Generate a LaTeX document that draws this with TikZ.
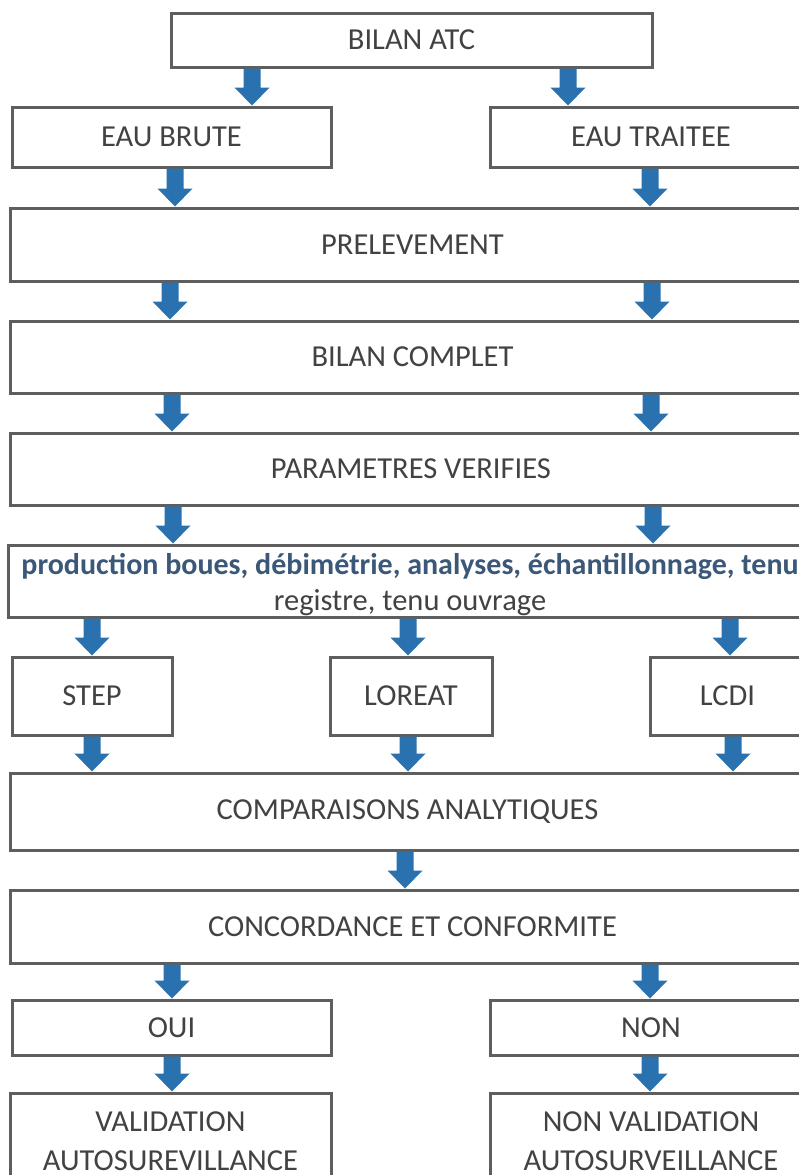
\documentclass[tikz,border=0pt]{standalone}
\usepackage{fontspec}
\setmainfont{Carlito}
\usetikzlibrary{calc}
\definecolor{arrowblue}{HTML}{2A72AF}
\definecolor{boxgray}{HTML}{5E5E5E}
\definecolor{txtgray}{HTML}{424242}
\definecolor{prodblue}{HTML}{3B5878}
\tikzset{
  box/.style={draw=boxgray, line width=3pt, fill=white, inner sep=0pt, align=center,
    text=txtgray, font=\fontsize{30.5}{39}\selectfont},
  flowarrow/.style={fill=arrowblue},
}
\newcommand\mkbox[6]{\node[box, minimum width={#4-#2}, minimum height={#5-#3}] (#1) at ({(#2+#4)/2},{(#3+#5)/2}) {#6};}
\newcommand\flowarrow[3]{%
  \coordinate (s) at (#2.south -| #1,0);
  \coordinate (e) at (#3.north -| #1,0);
  \fill[flowarrow] ($(s)+(-8.5,0)$) -- ($(e)+(-8.5,-18)$) -- ($(e)+(-17.5,-18)$) -- (e)
    -- ($(e)+(17.5,-18)$) -- ($(e)+(8.5,-18)$) -- ($(s)+(8.5,0)$) -- cycle;}
\begin{document}
\begin{tikzpicture}[x=1pt,y=-1pt]
\useasboundingbox (0,0) rectangle (799,1175);
\clip (0,0) rectangle (799,1175);
\fill[white] (0,0) rectangle (799,1175);
\mkbox{atc}{171}{13}{652}{67}{BILAN ATC}
\mkbox{brute}{12}{107}{331}{167}{EAU BRUTE}
\mkbox{traitee}{490}{107}{812}{167}{EAU TRAITEE}
\mkbox{prel}{10}{208}{815}{281}{PRELEVEMENT}
\mkbox{complet}{10}{321}{815}{393}{BILAN COMPLET}
\mkbox{param}{10}{433}{812}{505}{PARAMETRES VERIFIES}
\node[box, minimum width=804, minimum height=72, font=\fontsize{30.5}{36}\selectfont] (prod) at (410,581) {};
\node[text=txtgray, align=center, inner sep=0pt, font=\fontsize{30.5}{36}\selectfont] (prodtext) at (410,585)
  {{\color{prodblue}\bfseries\fontsize{30}{36}\selectfont production boues, débimétrie, analyses, échantillonnage, tenu}\\registre, tenu ouvrage};
\mkbox{step}{12}{657}{172}{735}{STEP}
\mkbox{loreat}{330}{657}{492}{735}{LOREAT}
\mkbox{lcdi}{650}{657}{805}{735}{LCDI}
\mkbox{comp}{10}{773}{805}{850}{COMPARAISONS ANALYTIQUES}
\mkbox{conc}{10}{890}{815}{963}{CONCORDANCE ET CONFORMITE}
\mkbox{oui}{12}{1000}{331}{1055}{OUI}
\mkbox{non}{490}{1000}{812}{1055}{NON}
\mkbox{val}{10}{1093}{331}{1190}{VALIDATION\\AUTOSUREVILLANCE}
\mkbox{nonval}{490}{1093}{812}{1190}{NON VALIDATION\\AUTOSURVEILLANCE}
\flowarrow{252}{atc}{brute}
\flowarrow{568}{atc}{traitee}
\flowarrow{175}{brute}{prel}
\flowarrow{650}{traitee}{prel}
\flowarrow{170}{prel}{complet}
\flowarrow{652}{prel}{complet}
\flowarrow{172}{complet}{param}
\flowarrow{651}{complet}{param}
\flowarrow{173}{param}{prod}
\flowarrow{653}{param}{prod}
\flowarrow{92}{prod}{step}
\flowarrow{408}{prod}{loreat}
\flowarrow{730}{prod}{lcdi}
\flowarrow{92}{step}{comp}
\flowarrow{408}{loreat}{comp}
\flowarrow{733}{lcdi}{comp}
\flowarrow{405}{comp}{conc}
\flowarrow{172}{conc}{oui}
\flowarrow{650}{conc}{non}
\flowarrow{172}{oui}{val}
\flowarrow{650}{non}{nonval}
\end{tikzpicture}
\end{document}
